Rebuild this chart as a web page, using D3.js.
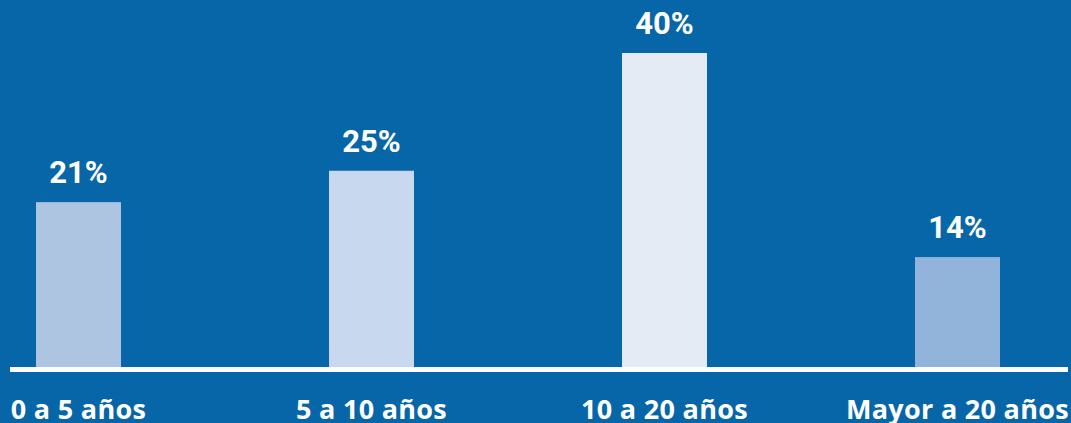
<!DOCTYPE html>
<html><head><meta charset="utf-8">
<script src="https://cdn.jsdelivr.net/npm/d3@7"></script>
<style>html,body{margin:0;padding:0;background:#0666a8;}svg{display:block;}</style>
</head><body>
<svg id="c" width="1071" height="423"></svg>
<script>
const categories = ["0 a 5 años", "5 a 10 años", "10 a 20 años", "Mayor a 20 años"];
const values = [21, 25, 40, 14];
const barColors = ["#adc5e0", "#c8d8ee", "#e4ebf5", "#93b4da"];

const W = 1071, H = 423;
const svg = d3.select("#c");
svg.append("rect").attr("width", W).attr("height", H).attr("fill", "#0666a8");

const x = d3.scaleBand().domain(categories).range([-68, 1104]).paddingInner(0.71).paddingOuter(0.355);
const y = d3.scaleLinear().domain([0, 40]).range([367, 53]);
const font = "Roboto, 'DejaVu Sans', sans-serif";

svg.append("g").selectAll("rect").data(values).join("rect")
  .attr("x", (d, i) => x(categories[i]))
  .attr("width", x.bandwidth())
  .attr("y", d => y(d))
  .attr("height", d => y(0) - y(d))
  .attr("fill", (d, i) => barColors[i]);

svg.append("line").attr("x1", 10).attr("x2", 1068).attr("y1", y(0) + 2.5).attr("y2", y(0) + 2.5)
  .attr("stroke", "#fff").attr("stroke-width", 5);

svg.append("g").selectAll("text").data(values).join("text")
  .attr("x", (d, i) => x(categories[i]) + x.bandwidth() / 2)
  .attr("y", d => y(d) - 19)
  .attr("text-anchor", "middle")
  .attr("fill", "#fff").attr("font-family", font).attr("font-weight", 700).attr("font-size", 31)
  .text(d => d + "%");

const xAxis = d3.axisBottom(x).tickSize(0).tickPadding(0);
const ax = svg.append("g").attr("transform", `translate(0,${y(0) + 52})`).call(xAxis);
ax.select(".domain").remove();
ax.selectAll("text").attr("dy", 0).attr("fill", "#fff").attr("font-family", "'Open Sans', sans-serif")
  .attr("font-weight", 700).attr("font-size", 27).attr("letter-spacing", 0.3);
</script>
</body></html>
